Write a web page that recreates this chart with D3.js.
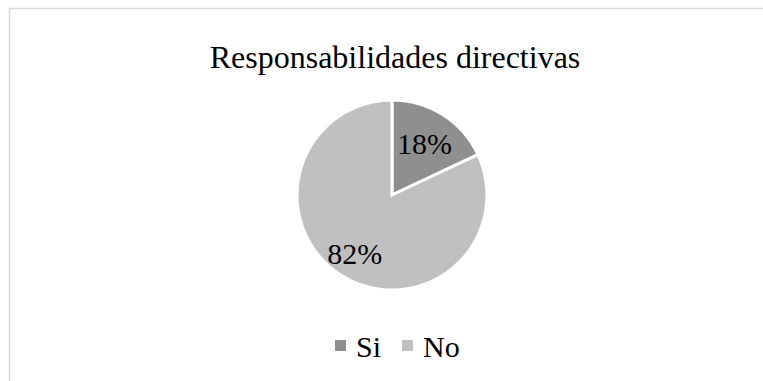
<!DOCTYPE html>
<html>
<head>
<meta charset="utf-8">
<script src="https://cdn.jsdelivr.net/npm/d3@7"></script>
<style>
  html, body { margin: 0; padding: 0; background: #fff; }
  svg { display: block; }
  text { font-family: "Liberation Serif", "Times New Roman", serif; fill: #000; }
</style>
</head>
<body>
<script>
// Chart data
const title = "Responsabilidades directivas";
const categories = ["Si", "No"];
const values = [18, 82];
const colors = ["#8f8f8f", "#c0c0c0"];

const W = 763, H = 381;
const svg = d3.select("body").append("svg").attr("width", W).attr("height", H);

// chart area frame
svg.append("rect")
  .attr("x", 9.5).attr("y", 8.5)
  .attr("width", W + 20).attr("height", H + 20)
  .attr("fill", "#fff").attr("stroke", "#d9d9d9").attr("stroke-width", 1.5);

svg.append("text")
  .attr("x", 395).attr("y", 68)
  .attr("text-anchor", "middle")
  .attr("font-size", 32)
  .text(title);

const cx = 392, cy = 195, R = 95;
const data = categories.map((c, i) => ({ name: c, value: values[i], color: colors[i] }));

const pie = d3.pie().sort(null).value(d => d.value);
const arc = d3.arc().innerRadius(0).outerRadius(R);
const arcs = pie(data);

const g = svg.append("g").attr("transform", `translate(${cx},${cy})`);
g.selectAll("path.slice").data(arcs).enter().append("path")
  .attr("class", "slice")
  .attr("d", arc)
  .attr("fill", d => d.data.color)
  .attr("stroke", "#fff")
  .attr("stroke-width", 3)
  .attr("stroke-linejoin", "miter");

// percentage labels inside the slices
g.selectAll("text.lbl").data(arcs).enter().append("text")
  .attr("class", "lbl")
  .attr("transform", d => {
    const k = d.data.value > 50 ? 0.73 : 0.64;
    const a = (d.startAngle + d.endAngle) / 2;
    return `translate(${Math.sin(a) * R * k},${-Math.cos(a) * R * k})`;
  })
  .attr("text-anchor", "middle")
  .attr("dy", "0.35em")
  .attr("font-size", 30)
  .text(d => d3.format(".0f")(d.value) + "%");

// legend
const legendX = [335, 402];
const lg = svg.append("g");
data.forEach((d, i) => {
  lg.append("rect")
    .attr("x", legendX[i]).attr("y", 340)
    .attr("width", 11).attr("height", 11)
    .attr("fill", d.color);
  lg.append("text")
    .attr("x", legendX[i] + 21).attr("y", 357)
    .attr("font-size", 30)
    .text(d.name);
});
</script>
</body>
</html>
